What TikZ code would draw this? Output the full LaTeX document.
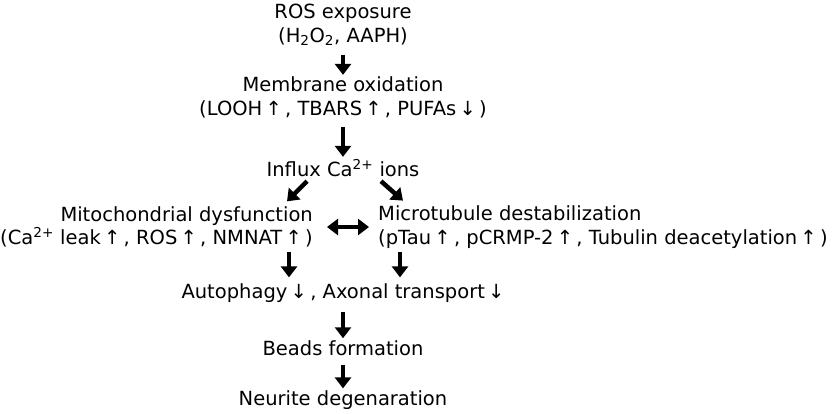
\documentclass[tikz,border=0pt]{standalone}
\usepackage{fontspec}
\setmainfont{DejaVu Sans}
\usetikzlibrary{arrows.meta}

\begin{document}
\begin{tikzpicture}[x=1pt,y=-1pt,
	lbl/.style={inner sep=0pt,align=center,font=\fontsize{19.5}{23.5}\selectfont},
	arr/.style={-{Triangle[width=16pt,length=11pt]},line width=4.5pt},
	darr/.style={{Triangle[width=16pt,length=11pt]}-{Triangle[width=16pt,length=11pt]},line width=4.5pt}]
				\useasboundingbox (0,0) rectangle (840,413);
				
				% main chain (middle)
				\node[lbl] (ros) at (343,25){ROS exposure\\(H\textsubscript{2}O\textsubscript{2}, AAPH)};
				\node[lbl] (memb) at (343,97.5){Membrane oxidation\\(LOOH\,↑\,, TBARS\,↑\,, PUFAs\,↓\,)};
				\node[lbl] (influx) at (343,168){Influx Ca\textsuperscript{2+} ions};
				
				% two branches
				\node[lbl,align=right,anchor=east] (mito) at (313,227){Mitochondrial dysfunction\\(Ca\textsuperscript{2+} leak\,↑\,, ROS\,↑\,, NMNAT\,↑\,)};
				\node[lbl,align=left,anchor=west] (micro) at (378,227){Microtubule destabilization\\(pTau\,↑\,, pCRMP-2\,↑\,, Tubulin deacetylation\,↑\,)};
				
				% bottom of the chain
				\node[lbl] (auto) at (343,293){Autophagy\,↓\,, Axonal transport\,↓};
				\node[lbl] (beads) at (343,348){Beads formation};
				\node[lbl] (neur) at (343,400){Neurite degenaration};
				
				\foreach \x/\y in
				{ros/memb, memb/influx, auto/beads, beads/neur}{
					\draw[arr,shorten <=9pt,shorten >=2pt] (\x) -- (\y);
				}
				\draw[arr] ([xshift=-36pt,yshift=-4pt]influx.south) -- ([xshift=-26pt,yshift=5pt]mito.north east);
				\draw[arr] ([xshift=38pt,yshift=-4pt]influx.south) -- ([xshift=25pt,yshift=5pt]micro.north west);
				\draw[darr] ([xshift=14pt]mito.east) -- ([xshift=-9pt]micro.west);
				\draw[arr] ([xshift=-24pt,yshift=-4pt]mito.south east) -- ([xshift=-24pt,yshift=6pt]mito.south east |- auto.north);
				\draw[arr] ([xshift=22pt,yshift=-4pt]micro.south west) -- ([xshift=22pt,yshift=6pt]micro.south west |- auto.north);
			\end{tikzpicture}
\end{document}
